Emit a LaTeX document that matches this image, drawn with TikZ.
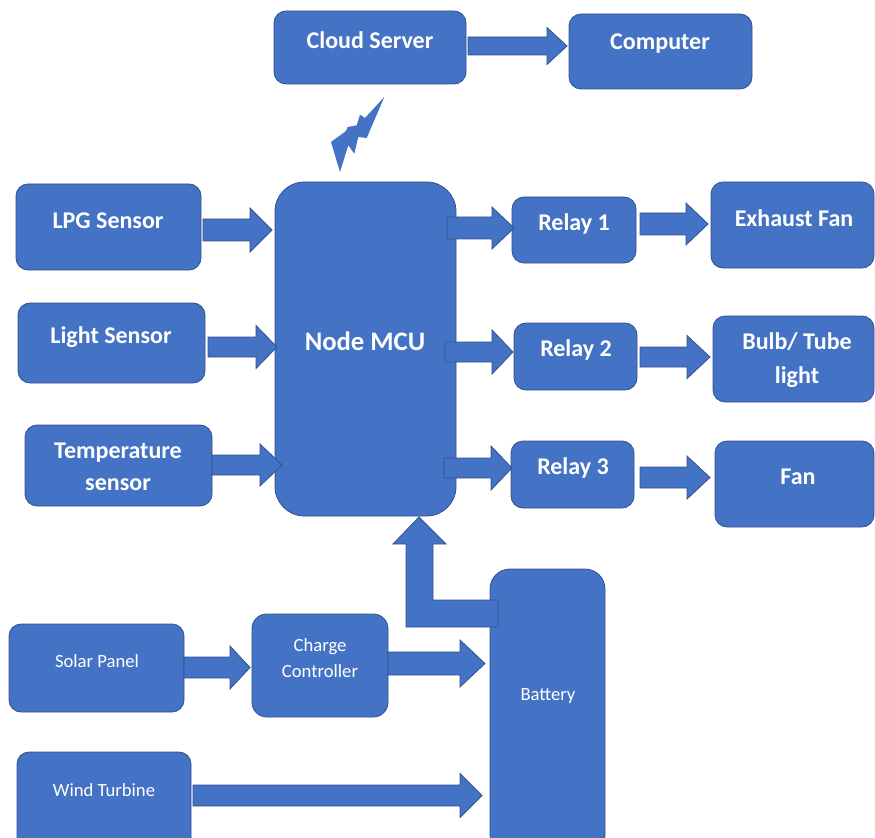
\documentclass[tikz,border=0pt]{standalone}
\usepackage{fontspec}
\setmainfont{Carlito}
\usetikzlibrary{fit}
\definecolor{boxfill}{HTML}{4472C4}
\definecolor{boxline}{HTML}{2F528F}
\tikzset{
  box/.style={draw=boxline, fill=boxfill, line width=0.6pt, rounded corners=9pt, inner sep=0pt},
  arr/.style={draw=boxline, fill=boxfill, line width=0.6pt, line join=miter},
  bt/.style={text=white, align=center, font=\fontsize{18}{24}\selectfont\bfseries, inner sep=0pt},
  st/.style={text=white, align=center, font=\fontsize{14}{19}\selectfont, inner sep=0pt},
}
% block arrow: x start, x tip, y centre, shaft half, head half, head length
\newcommand\blockarr[6]{%
  \draw[arr] (#1,#3-#4) -- (#2-#6,#3-#4) -- (#2-#6,#3-#5) -- (#2,#3) -- (#2-#6,#3+#5) -- (#2-#6,#3+#4) -- (#1,#3+#4) -- cycle;}
\begin{document}
\begin{tikzpicture}[x=0.75pt, y=-0.75pt]
\useasboundingbox (0,0) rectangle (875,838);
\clip (0,0) rectangle (875,838);
% boxes
\node[box, fit={(274,11)(466,84)}] (cloud) {};
\node[box, fit={(569,14)(752,89)}] (computer) {};
\node[box, fit={(16,184)(201,270)}] (lpg) {};
\node[box, fit={(18,303)(205,383)}] (light) {};
\node[box, fit={(25,425)(212,506)}] (temp) {};
\node[box, rounded corners=22pt, fit={(275,182)(456,516)}] (mcu) {};
\node[box, fit={(512,197)(636,263)}] (relay1) {};
\node[box, fit={(514,323)(637,390)}] (relay2) {};
\node[box, fit={(511,441)(634,508)}] (relay3) {};
\node[box, fit={(711,182)(874,268)}] (exhaust) {};
\node[box, fit={(713,316)(874,402)}] (bulb) {};
\node[box, fit={(715,441)(874,527)}] (fan) {};
\node[box, rounded corners=15pt, fit={(490,569)(605,855)}] (battery) {};
\node[box, fit={(9,624)(184,712)}] (solar) {};
\node[box, rounded corners=11pt, fit={(252,614)(388,717)}] (charge) {};
\node[box, fit={(17,752)(191,855)}] (wind) {};
% texts
\node[bt] (cloudT) at (370,40) {Cloud Server};
\node[bt] (computerT) at (660,44) {Computer};
\node[bt] (lpgT) at (108,221) {LPG Sensor};
\node[bt] (lightT) at (111,337) {Light Sensor};
\node[bt] (tempT) at (118,467) {Temperature\\sensor};
\node[bt, font=\fontsize{20}{24}\selectfont\bfseries] (mcuT) at (365,341) {Node MCU};
\node[bt] (relay1T) at (574,224) {Relay 1};
\node[bt] (relay2T) at (576,350) {Relay 2};
\node[bt] (relay3T) at (573,468) {Relay 3};
\node[bt] (exhaustT) at (794,218) {Exhaust Fan};
\node[bt, font=\fontsize{18}{25}\selectfont\bfseries] (bulbT) at (797,360) {Bulb/ Tube\\light};
\node[bt] (fanT) at (798,477) {Fan};
\node[st] (solarT) at (97,661) {Solar Panel};
\node[st] (chargeT) at (320,658) {Charge\\Controller};
\node[st] (windT) at (104,790) {Wind Turbine};
\node[st] (batteryT) at (548,696) {Battery};
% block arrows
\blockarr{468}{567}{46}{9}{18.5}{20}
\blockarr{203}{272}{230}{11}{22}{22}
\blockarr{208}{277}{347}{10}{21.5}{21}
\blockarr{212}{282}{465}{10}{21}{22}
\blockarr{447}{514}{228}{11}{21}{22}
\blockarr{445}{513}{352}{10}{22}{21}
\blockarr{444}{512}{468}{10}{22}{21}
\blockarr{640}{708}{224}{11}{21}{22}
\blockarr{640}{710}{357}{10}{21.5}{23}
\blockarr{640}{710}{477.5}{10.5}{21.5}{23}
\blockarr{184}{250}{667.5}{10.5}{21.5}{20}
\blockarr{388}{485}{663.5}{11.5}{23.5}{25}
\blockarr{193}{482}{795.5}{10.5}{22}{22}
% bent arrow battery -> MCU
\draw[arr] (498,600) -- (433,600) -- (433,544) -- (446,544) -- (419,517) -- (393,544) -- (406,544) -- (406,627) -- (498,627) -- cycle;
% lightning bolt (wireless link)
\fill[boxfill] (384.3,97) -- (365,118) -- (360,114.7) -- (356.7,125.3) -- (347.7,127) -- (345.7,131.3) -- (331,142) -- (340,172) -- (348.3,145.3) -- (354.3,153.7) -- (358.3,137) -- (366.7,138) -- cycle;
\end{tikzpicture}
\end{document}
